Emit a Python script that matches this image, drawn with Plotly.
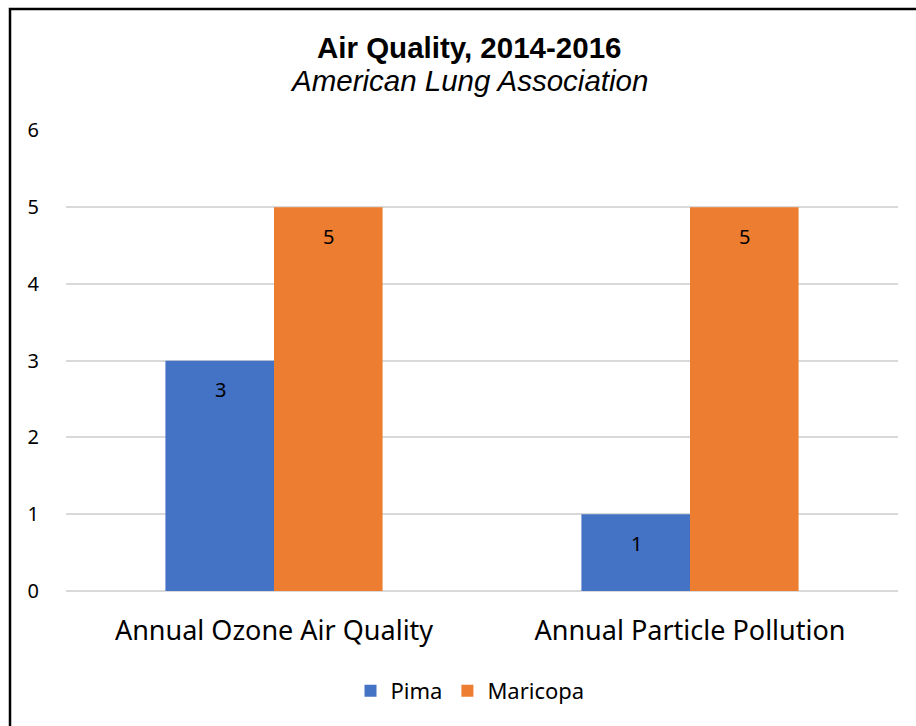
import plotly.graph_objects as go

categories = ["Annual Ozone Air Quality", "Annual Particle Pollution"]
pima = [3, 1]
maricopa = [5, 5]
y_ticks = [0, 1, 2, 3, 4, 5, 6]

W, H = 916, 726
L, R, T, B = 66, 18, 130, 135
pw, ph = W - L - R, H - T - B

def px(x):
    return (x - L) / pw

def py(y):
    return (H - B - y) / ph

font_main = "Noto Sans"
BLUE, ORANGE = "#4472C4", "#ED7D31"

fig = go.Figure()
fig.add_trace(go.Bar(name="Pima", x=categories, y=pima, marker_color=BLUE,
                     marker_line_width=0))
fig.add_trace(go.Bar(name="Maricopa", x=categories, y=maricopa, marker_color=ORANGE,
                     marker_line_width=0))

bar_half = 54
annotations = []
for vals, shift in ((pima, -bar_half), (maricopa, bar_half)):
    for c, v in zip(categories, vals):
        annotations.append(dict(
            x=c, y=v, xref="x", yref="y", text=str(v), showarrow=False,
            xshift=shift, yshift=-29, xanchor="center", yanchor="middle",
            font=dict(family=font_main, size=20, color="#000000")))

annotations += [
    dict(text="<b>Air Quality, 2014-2016</b>", xref="paper", yref="paper",
         x=px(469), y=py(47), xanchor="center", yanchor="middle", showarrow=False,
         font=dict(family="Liberation Sans", size=29.5, color="#000000")),
    dict(text="<i>American Lung Association</i>", xref="paper", yref="paper",
         x=px(469), y=py(81), xanchor="center", yanchor="middle", showarrow=False,
         font=dict(family="Liberation Sans", size=29.5, color="#000000")),
]

fig.update_layout(
    width=W, height=H,
    margin=dict(l=L, r=R, t=T, b=B),
    paper_bgcolor="white", plot_bgcolor="white",
    barmode="group", bargap=0.478, bargroupgap=0,
    showlegend=True,
    legend=dict(orientation="h", x=px(470), xanchor="center", y=py(691), yanchor="middle",
                font=dict(family=font_main, size=22, color="#000000")),
    xaxis=dict(showgrid=False, showline=False, ticks="",
               tickfont=dict(family=font_main, size=27, color="#000000"),
               ticklabelstandoff=21),
    yaxis=dict(range=[0, 6.005], tickvals=y_ticks, showgrid=True, gridcolor="#D9D9D9", gridwidth=1.5,
               zeroline=True, zerolinecolor="#D9D9D9", zerolinewidth=1.5,
               showline=False, ticks="",
               tickfont=dict(family=font_main, size=20, color="#000000"),
               ticklabelstandoff=26),
    annotations=annotations,
    shapes=[
        dict(type="rect", xref="paper", yref="paper",
             x0=px(10), x1=px(940), y0=py(750), y1=py(9),
             line=dict(color="#000000", width=2.5), fillcolor="rgba(0,0,0,0)", layer="above"),
    ],
)

fig.write_html("out.html", config={"displayModeBar": False},
               post_script="document.body.style.margin='0';document.body.style.overflow='hidden';")
